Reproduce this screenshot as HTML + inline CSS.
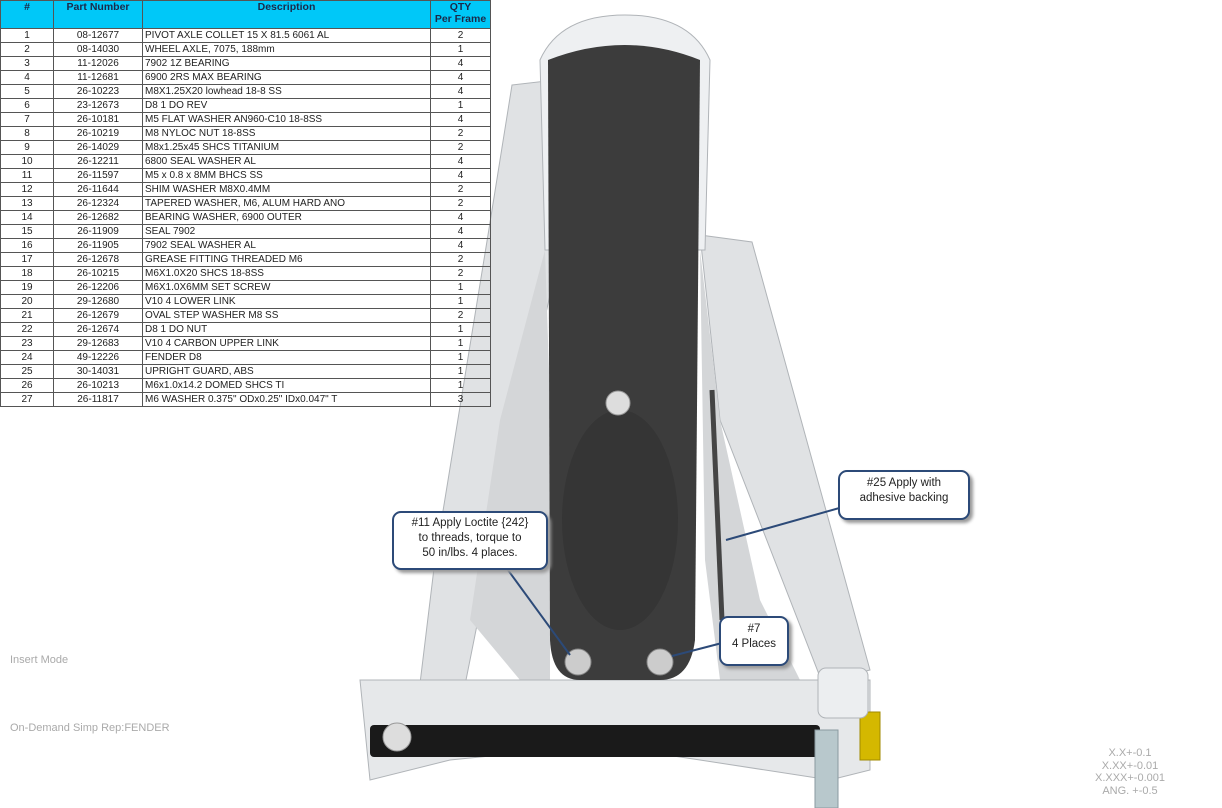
<!DOCTYPE html>
<html><head><meta charset="utf-8"><style>
body{margin:0;width:1222px;height:808px;background:#fff;position:relative;overflow:hidden;font-family:"Liberation Sans",sans-serif}
table{position:absolute;left:0;top:0;border-collapse:collapse;font-size:10px;color:#222}
td,th{border:1px solid #555;padding:0 2px;height:13px;line-height:12px;white-space:nowrap}
th{background:#00c8f8;font-weight:bold;color:#1a2a4a;vertical-align:top;height:27px;font-size:10.5px}
td.c{text-align:center}
.box{position:absolute;background:#fff;border:2px solid #2c4a78;border-radius:9px;box-shadow:3px 3px 3px #999;font-size:11.5px;text-align:center;line-height:15px;color:#222}
.g{position:absolute;color:#aaa;font-size:11px}
</style></head><body>
<svg width="1222" height="808" style="position:absolute;left:0;top:0">
<polygon points="512,85 555,80 560,250 480,610 462,700 418,700 435,560 488,235" fill="#e0e2e4" stroke="#b0b4b8"/>
<polygon points="700,235 752,242 870,670 822,682 720,420" fill="#e0e2e4" stroke="#b0b4b8"/>
<polygon points="700,250 720,420 760,600 800,680 720,680 705,560" fill="#d4d6d8"/>
<polygon points="545,250 500,420 470,620 520,680 550,680 550,400" fill="#d4d6d8"/>
<path d="M545,250 L540,60 Q560,15 625,15 Q690,15 710,60 L705,250 Z" fill="#eef0f2" stroke="#b0b4b8"/>
<path d="M360,680 L870,680 L870,770 L830,780 L700,760 L600,745 L450,760 L370,780 Z" fill="#e6e8ea" stroke="#b0b4b8"/>
<path d="M548,60 Q625,30 700,60 L695,640 Q690,680 660,680 L580,680 Q552,680 550,640 Z" fill="#3c3c3c"/>
<ellipse cx="620" cy="520" rx="58" ry="110" fill="#353535"/>
<line x1="712" y1="390" x2="722" y2="620" stroke="#444" stroke-width="5"/>
<circle cx="618" cy="403" r="12" fill="#ddd" stroke="#999"/>
<circle cx="578" cy="662" r="13" fill="#ccc" stroke="#888"/>
<circle cx="660" cy="662" r="13" fill="#ccc" stroke="#888"/>
<rect x="370" y="725" width="450" height="32" rx="4" fill="#1a1a1a"/>
<circle cx="397" cy="737" r="14" fill="#ddd" stroke="#999"/>
<rect x="860" y="712" width="20" height="48" fill="#d4b800" stroke="#a08a00"/>
<rect x="815" y="730" width="23" height="78" fill="#b8c8cc" stroke="#8a9aa0"/>
<rect x="818" y="668" width="50" height="50" rx="8" fill="#eceef0" stroke="#b0b4b8"/>
<g stroke="#2c4a78" stroke-width="2" fill="none">
<line x1="505" y1="566" x2="570" y2="655"/>
<line x1="850" y1="505" x2="726" y2="540"/>
<line x1="722" y1="643" x2="672" y2="656"/>
</g>
</svg>
<table>
<tr><th style="width:48px">#</th><th style="width:84px">Part Number</th><th style="width:283px">Description</th><th style="width:55px">QTY<br>Per Frame</th></tr>
<tr><td class="c">1</td><td class="c">08-12677</td><td>PIVOT AXLE COLLET 15 X 81.5 6061 AL</td><td class="c">2</td></tr>
<tr><td class="c">2</td><td class="c">08-14030</td><td>WHEEL AXLE, 7075, 188mm</td><td class="c">1</td></tr>
<tr><td class="c">3</td><td class="c">11-12026</td><td>7902 1Z BEARING</td><td class="c">4</td></tr>
<tr><td class="c">4</td><td class="c">11-12681</td><td>6900 2RS MAX BEARING</td><td class="c">4</td></tr>
<tr><td class="c">5</td><td class="c">26-10223</td><td>M8X1.25X20 lowhead 18-8 SS</td><td class="c">4</td></tr>
<tr><td class="c">6</td><td class="c">23-12673</td><td>D8 1 DO REV</td><td class="c">1</td></tr>
<tr><td class="c">7</td><td class="c">26-10181</td><td>M5 FLAT WASHER AN960-C10 18-8SS</td><td class="c">4</td></tr>
<tr><td class="c">8</td><td class="c">26-10219</td><td>M8 NYLOC NUT 18-8SS</td><td class="c">2</td></tr>
<tr><td class="c">9</td><td class="c">26-14029</td><td>M8x1.25x45 SHCS TITANIUM</td><td class="c">2</td></tr>
<tr><td class="c">10</td><td class="c">26-12211</td><td>6800 SEAL WASHER AL</td><td class="c">4</td></tr>
<tr><td class="c">11</td><td class="c">26-11597</td><td>M5 x 0.8 x 8MM BHCS SS</td><td class="c">4</td></tr>
<tr><td class="c">12</td><td class="c">26-11644</td><td>SHIM WASHER M8X0.4MM</td><td class="c">2</td></tr>
<tr><td class="c">13</td><td class="c">26-12324</td><td>TAPERED WASHER, M6, ALUM HARD ANO</td><td class="c">2</td></tr>
<tr><td class="c">14</td><td class="c">26-12682</td><td>BEARING WASHER, 6900 OUTER</td><td class="c">4</td></tr>
<tr><td class="c">15</td><td class="c">26-11909</td><td>SEAL 7902</td><td class="c">4</td></tr>
<tr><td class="c">16</td><td class="c">26-11905</td><td>7902 SEAL WASHER AL</td><td class="c">4</td></tr>
<tr><td class="c">17</td><td class="c">26-12678</td><td>GREASE FITTING THREADED M6</td><td class="c">2</td></tr>
<tr><td class="c">18</td><td class="c">26-10215</td><td>M6X1.0X20 SHCS 18-8SS</td><td class="c">2</td></tr>
<tr><td class="c">19</td><td class="c">26-12206</td><td>M6X1.0X6MM SET SCREW</td><td class="c">1</td></tr>
<tr><td class="c">20</td><td class="c">29-12680</td><td>V10 4 LOWER LINK</td><td class="c">1</td></tr>
<tr><td class="c">21</td><td class="c">26-12679</td><td>OVAL STEP WASHER M8 SS</td><td class="c">2</td></tr>
<tr><td class="c">22</td><td class="c">26-12674</td><td>D8 1 DO NUT</td><td class="c">1</td></tr>
<tr><td class="c">23</td><td class="c">29-12683</td><td>V10 4 CARBON UPPER LINK</td><td class="c">1</td></tr>
<tr><td class="c">24</td><td class="c">49-12226</td><td>FENDER D8</td><td class="c">1</td></tr>
<tr><td class="c">25</td><td class="c">30-14031</td><td>UPRIGHT GUARD, ABS</td><td class="c">1</td></tr>
<tr><td class="c">26</td><td class="c">26-10213</td><td>M6x1.0x14.2 DOMED SHCS TI</td><td class="c">1</td></tr>
<tr><td class="c">27</td><td class="c">26-11817</td><td>M6 WASHER 0.375" ODx0.25" IDx0.047" T</td><td class="c">3</td></tr>
</table>
<div class="box" style="left:392px;top:511px;width:152px;height:52px;padding-top:3px">#11 Apply Loctite {242}<br>to threads, torque to<br>50 in/lbs. 4 places.</div>
<div class="box" style="left:838px;top:470px;width:128px;height:42px;padding-top:4px">#25 Apply with<br>adhesive backing</div>
<div class="box" style="left:719px;top:616px;width:66px;height:42px;padding-top:4px">#7<br>4 Places</div>
<div class="g" style="left:10px;top:654px">Insert Mode</div>
<div class="g" style="left:10px;top:722px">On-Demand Simp Rep:FENDER</div>
<div class="g" style="left:1085px;top:747px;text-align:center;line-height:12.5px;width:90px">X.X+-0.1<br>X.XX+-0.01<br>X.XXX+-0.001<br>ANG. +-0.5</div>
</body></html>
